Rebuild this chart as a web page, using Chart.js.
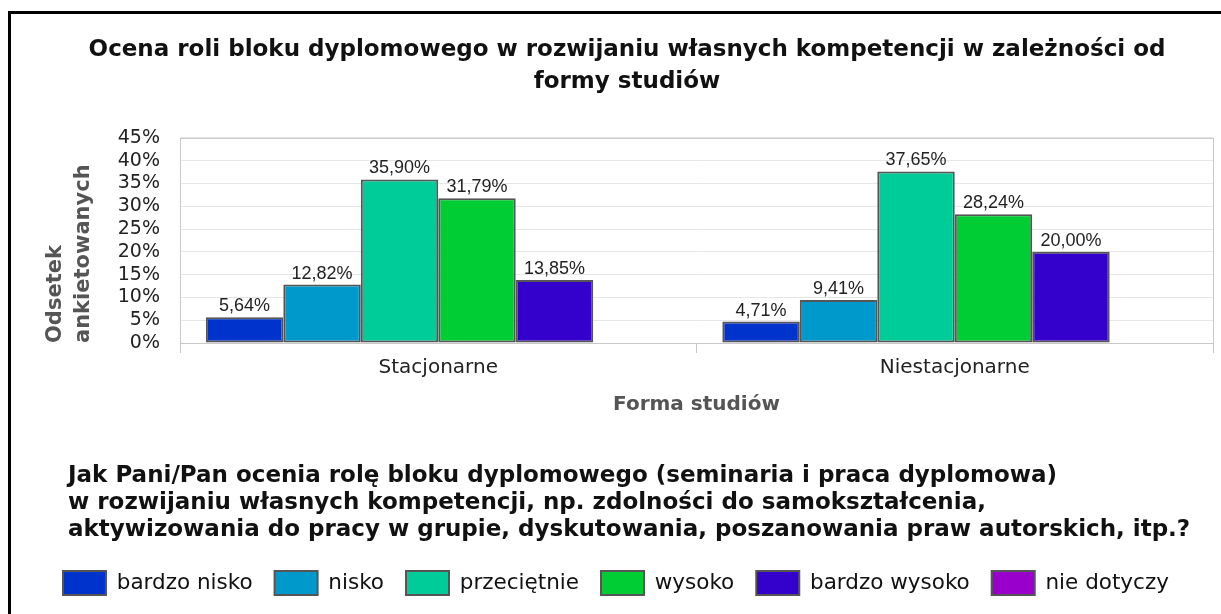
<!DOCTYPE html>
<html>
<head>
<meta charset="utf-8">
<script src="https://cdn.jsdelivr.net/npm/chart.js@4"></script>
<style>
  body { margin: 0; background: #fff; overflow: hidden; }
  #frame { position: absolute; left: 8px; top: 11px; width: 1400px; height: 800px; border: 3px solid #000; }
  #box { position: absolute; left: 11px; top: 14px; width: 1210px; height: 600px; }
  #question { position: absolute; left: 68px; top: 461px; font: bold 23px "DejaVu Sans", sans-serif; line-height: 27px; color: #111; white-space: nowrap; }
</style>
</head>
<body>
<div id="frame"></div>
<div id="box"><canvas id="chart"></canvas></div>
<div id="question">Jak Pani/Pan ocenia rolę bloku dyplomowego (seminaria i praca dyplomowa)<br>w rozwijaniu własnych kompetencji, np. zdolności do samokształcenia,<br>aktywizowania do pracy w grupie, dyskutowania, poszanowania praw autorskich, itp.?</div>
<script>
// dane (w %)
const kategorie = ["Stacjonarne", "Niestacjonarne"];
const bardzoNisko = [5.64, 4.71];
const nisko = [12.82, 9.41];
const przecietnie = [35.90, 37.65];
const wysoko = [31.79, 28.24];
const bardzoWysoko = [13.85, 20.00];
const nieDotyczy = [0, 0];
const osY = [0, 5, 10, 15, 20, 25, 30, 35, 40, 45];

const serie = [
    { label: "bardzo nisko", data: bardzoNisko, kolor: "#0033cc" },
    { label: "nisko", data: nisko, kolor: "#0099cc" },
    { label: "przeciętnie", data: przecietnie, kolor: "#00cc99" },
    { label: "wysoko", data: wysoko, kolor: "#00cc33" },
    { label: "bardzo wysoko", data: bardzoWysoko, kolor: "#3300cc" },
    { label: "nie dotyczy", data: nieDotyczy, kolor: "#9900cc" }
];

// ramka obszaru wykresu
const ramka = {
    id: "ramka",
    beforeDatasetsDraw(chart) {
        const a = chart.chartArea;
        const ctx = chart.ctx;
        ctx.save();
        ctx.strokeStyle = "#c8c8c8";
        ctx.lineWidth = 1;
        ctx.strokeRect(a.left + 0.5, a.top + 0.5, a.right - a.left, a.bottom - a.top);
        ctx.restore();
    }
};

// etykiety wartosci nad slupkami
const etykiety = {
    id: "etykiety",
    afterDatasetsDraw(chart) {
        const ctx = chart.ctx;
        ctx.save();
        ctx.font = "18px 'Liberation Sans', Arial, sans-serif";
        ctx.fillStyle = "#222";
        ctx.textAlign = "center";
        ctx.textBaseline = "bottom";
        chart.data.datasets.forEach((ds, i) => {
            chart.getDatasetMeta(i).data.forEach((bar, j) => {
                const v = ds.data[j];
                if (!v) return;
                ctx.fillText(v.toFixed(2).replace(".", ",") + "%", bar.x, bar.y - 2);
            });
        });
        ctx.restore();
    }
};

new Chart(document.getElementById("chart"), {
    type: "bar",
    data: {
        labels: kategorie,
        datasets: serie.map(s => ({
            label: s.label,
            data: s.data,
            backgroundColor: s.kolor,
            borderColor: "#555",
            borderWidth: 2,
            borderSkipped: false,
            categoryPercentage: 0.9,
            barPercentage: 1.0
        }))
    },
    options: {
        responsive: true,
        maintainAspectRatio: false,
        animation: false,
        layout: { padding: { left: 30, right: 8, top: 0, bottom: 9 } },
        plugins: {
            title: {
                display: true,
                text: ["Ocena roli bloku dyplomowego w rozwijaniu własnych kompetencji w zależności od", "formy studiów"],
                color: "#111",
                font: { family: "'DejaVu Sans', sans-serif", size: 23, weight: "bold", lineHeight: 1.39 },
                padding: { top: 20, bottom: 40 }
            },
            legend: {
                position: "bottom",
                align: "start",
                labels: {
                    boxWidth: 43,
                    boxHeight: 24,
                    padding: 22,
                    color: "#111",
                    font: { family: "'DejaVu Sans', sans-serif", size: 21.5 }
                }
            },
            tooltip: { enabled: false }
        },
        scales: {
            x: {
                grid: { offset: true, drawOnChartArea: false, tickLength: 10, color: "#c8c8c8" },
                border: { color: "#bbb" },
                ticks: { color: "#222", padding: 3, font: { family: "'DejaVu Sans', sans-serif", size: 20 } },
                title: {
                    display: true,
                    text: "Forma studiów",
                    color: "#555",
                    font: { family: "'DejaVu Sans', sans-serif", size: 20, weight: "bold" },
                    padding: { top: 10, bottom: 132 }
                }
            },
            y: {
                min: 0,
                max: 45,
                afterFit(scale) { scale.width = 139; },
                afterBuildTicks(scale) { scale.ticks = osY.map(v => ({ value: v })); },
                grid: { color: "#e6e6e6", drawTicks: false },
                border: { display: false },
                ticks: {
                    color: "#222",
                    padding: 20,
                    autoSkip: false,
                    font: { family: "'DejaVu Sans', sans-serif", size: 19 },
                    callback: v => v + "%"
                },
                title: {
                    display: true,
                    align: "start",
                    text: ["Odsetek", "ankietowanych"],
                    color: "#555",
                    font: { family: "'DejaVu Sans', sans-serif", size: 21, weight: "bold", lineHeight: 1.34 },
                    padding: { top: 0, bottom: 10 }
                }
            }
        }
    },
    plugins: [ramka, etykiety]
});
</script>
</body>
</html>
